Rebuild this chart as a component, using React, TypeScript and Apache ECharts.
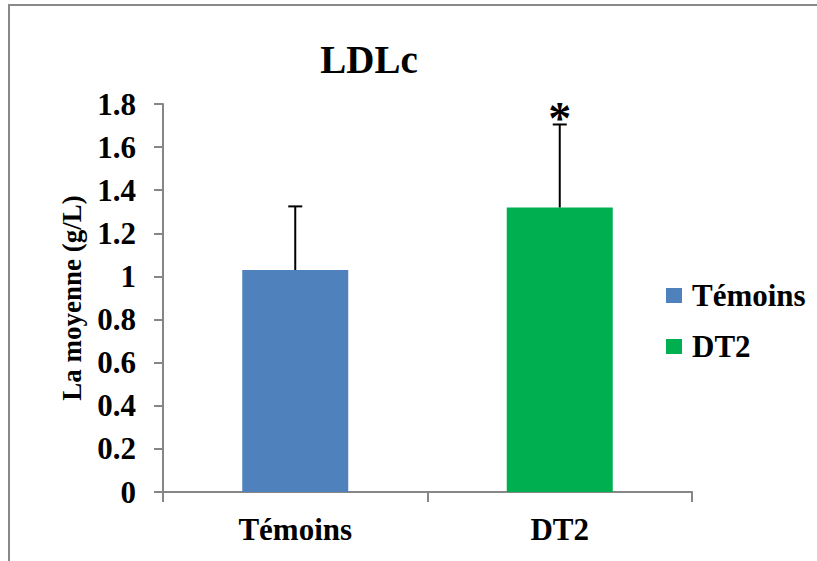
import React, { useEffect, useRef } from "react";
import * as echarts from "echarts";

// LDLc means (g/L) with standard deviations, per group
const categories = ["Témoins", "DT2"];
const means = [1.03, 1.32];
const sds = [0.295, 0.385];
const significance = ["", "*"];
const barColors = ["#4F81BD", "#00B050"];
const yTicks = { min: 0, max: 1.8, interval: 0.2 };

const FONT = '"Liberation Serif", "Times New Roman", serif';
const AXIS_GRAY = "#868686";

export default function App() {
  const ref = useRef<HTMLDivElement>(null);

  useEffect(() => {
    document.body.style.margin = "0";
    const chart = echarts.init(ref.current!, null, { renderer: "svg" });

    // one bar series per group so that each appears in the legend
    const barSeries = categories.map((name, i) => ({
      name,
      type: "bar",
      data: categories.map((_, j) => (j === i ? means[i] : "-")),
      barWidth: 106,
      barGap: "-100%",
      itemStyle: { color: barColors[i] },
      z: 2,
    }));

    const errorData = categories.map((_, i) => [i, means[i], sds[i], significance[i]]);

    chart.setOption({
      animation: false,
      backgroundColor: "#ffffff",
      title: {
        text: "LDLc",
        left: 364,
        top: 35,
        textAlign: "center",
        textStyle: { fontFamily: FONT, fontWeight: "bold", fontSize: 39, color: "#000" },
      },
      legend: {
        orient: "vertical",
        left: 661,
        top: 275,
        icon: "rect",
        itemWidth: 16,
        itemHeight: 15,
        itemGap: 20,
        data: categories,
        textStyle: { fontFamily: FONT, fontWeight: "bold", fontSize: 31, color: "#000", padding: [0, 0, 0, 5] },
      },
      grid: { left: 163, right: 125, top: 104, bottom: 69, containLabel: false },
      xAxis: {
        type: "category",
        data: categories,
        axisLine: { lineStyle: { color: AXIS_GRAY, width: 2 } },
        axisTick: { show: true, length: 10, lineStyle: { color: AXIS_GRAY, width: 2 } },
        axisLabel: { margin: 22, fontFamily: FONT, fontWeight: "bold", fontSize: 31, color: "#000" },
      },
      yAxis: {
        type: "value",
        min: yTicks.min,
        max: yTicks.max,
        interval: yTicks.interval,
        name: "La moyenne (g/L)",
        nameLocation: "middle",
        nameGap: 78,
        nameTextStyle: { fontFamily: FONT, fontWeight: "bold", fontSize: 27, color: "#000" },
        axisLine: { show: true, lineStyle: { color: AXIS_GRAY, width: 2 } },
        axisTick: { show: true, length: 9, lineStyle: { color: AXIS_GRAY, width: 2 } },
        splitLine: { show: false },
        axisLabel: {
          margin: 27,
          fontFamily: FONT,
          fontWeight: "bold",
          fontSize: 31,
          color: "#000",
          formatter: (v: number) => String(Number(v.toFixed(1))),
        },
      },
      graphic: [
        {
          type: "rect",
          shape: { x: 9, y: 5, width: 900, height: 700 },
          style: { fill: "none", stroke: "#898989", lineWidth: 2 },
          silent: true,
          z: -1,
        },
      ],
      series: [
        ...barSeries,
        {
          type: "custom",
          name: "sd",
          data: errorData,
          z: 3,
          renderItem: (params: any, api: any) => {
            const x = api.value(0);
            const m = api.value(1);
            const sd = api.value(2);
            const sig = errorData[params.dataIndex][3] as string;
            const base = api.coord([x, m]);
            const top = api.coord([x, m + sd]);
            const cap = 7;
            const children: any[] = [
              {
                type: "line",
                shape: { x1: base[0], y1: base[1], x2: top[0], y2: top[1] },
                style: { stroke: "#000", lineWidth: 2 },
              },
              {
                type: "line",
                shape: { x1: top[0] - cap, y1: top[1], x2: top[0] + cap, y2: top[1] },
                style: { stroke: "#000", lineWidth: 2 },
              },
            ];
            if (sig) {
              children.push({
                type: "text",
                x: top[0],
                y: top[1] - 6,
                style: {
                  text: sig,
                  fontFamily: FONT,
                  fontWeight: "bold",
                  fontSize: 46,
                  fill: "#000",
                  align: "center",
                  verticalAlign: "middle",
                },
              });
            }
            return { type: "group", children };
          },
        },
      ],
    });

    return () => chart.dispose();
  }, []);

  return <div ref={ref} style={{ width: 817, height: 561 }} />;
}
